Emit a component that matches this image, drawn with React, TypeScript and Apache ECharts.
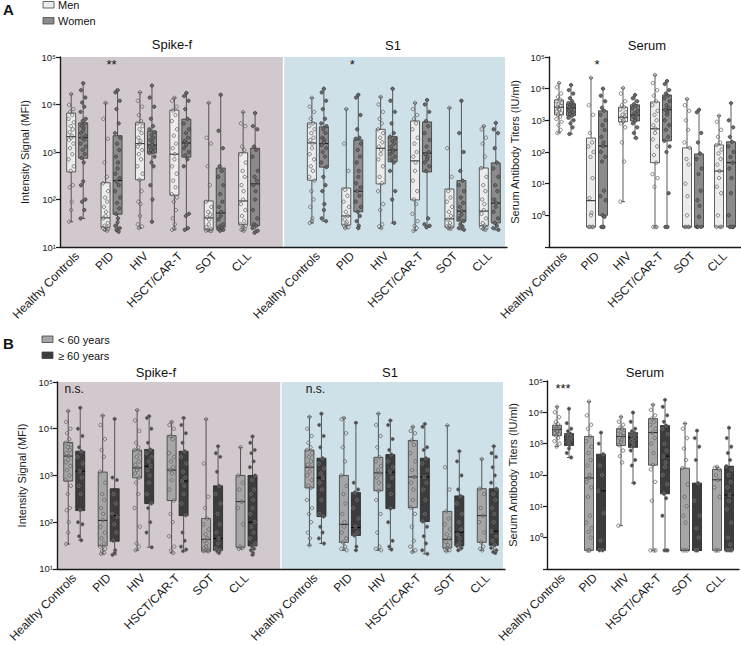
import React, { useEffect, useRef } from 'react';
import * as echarts from 'echarts';

const FONT = '"Liberation Sans", Arial, Helvetica, sans-serif';

// ---------- categories ----------
const categories = ['Healthy Controls', 'PID', 'HIV', 'HSCT/CAR-T', 'SOT', 'CLL'];
const leftCategories = [...categories, '', ...categories];
const S1_START = 7; // S1 categories start after an empty separator slot

// ---------- box stats: [min, q1, median, q3, max] per category ----------
const spikeA_men = [[34, 380, 2100, 6600, 16600], [22, 26, 41, 225, 10800], [25, 260, 1500, 4100, 18000], [23, 124, 900, 7600, 13800], [22, 23, 41, 93, 10800], [22, 30, 93, 960, 6900]];
const spikeA_women = [[40, 740, 2000, 4100, 28000], [21, 49, 250, 2200, 20000], [34, 950, 1400, 2750, 25000], [23, 780, 1550, 4900, 17500], [22, 26, 52, 460, 16000], [20, 28, 213, 1200, 6600]];
const s1A_men = [[32, 255, 1550, 4100, 13800], [25, 29, 45, 174, 8000], [25, 213, 1200, 3000, 14400], [22, 98, 650, 4500, 10800], [24, 26, 39, 166, 8500], [23, 28, 57, 460, 3500]];
const s1A_women = [[35, 480, 1500, 3400, 21500], [25, 55, 150, 1800, 16000], [32, 620, 1100, 2100, 21500], [26, 380, 950, 4300, 12400], [23, 35, 57, 250, 12000], [23, 32, 84, 590, 4100]];
const serumA_men = [[400, 1480, 2600, 4400, 15000], [0.43, 0.43, 2.9, 275, 22000], [2.7, 900, 1250, 2600, 10500], [0.43, 46, 540, 3800, 27000], [0.43, 0.43, 0.43, 135, 4700], [0.43, 0.43, 25, 167, 1400]];
const serumA_women = [[370, 1400, 2450, 3300, 13000], [0.43, 1.0, 155, 2000, 10000], [275, 950, 1480, 3100, 6300], [0.43, 225, 2150, 6300, 17500], [0.43, 0.43, 0.43, 87, 2150], [0.43, 0.43, 46, 210, 3500]];

const spikeB_young = [[34, 760, 2600, 5100, 24000], [21, 31, 109, 1180, 19000], [25, 890, 1450, 3500, 25000], [22, 290, 1300, 7100, 14000], [24, 24, 43, 120, 16000], [27, 29, 275, 1000, 4000]];
const spikeB_old = [[41, 177, 1230, 3300, 28000], [20, 39, 138, 520, 16200], [29, 250, 1580, 3600, 18500], [24, 138, 760, 3300, 17000], [22, 25, 45, 600, 4200], [20, 31, 100, 1000, 6800]];
const s1B_young = [[32, 540, 1500, 3500, 18000], [25, 37, 90, 1000, 17000], [25, 470, 1130, 2450, 21000], [23, 205, 930, 5600, 11000], [24, 28, 43, 170, 11700], [25, 37, 138, 520, 2240]];
const s1B_old = [[35, 132, 890, 2340, 21000], [25, 52, 77, 430, 13400], [26, 195, 1180, 2800, 15000], [21, 103, 930, 2340, 12700], [25, 31, 61, 365, 3300], [22, 32, 64, 520, 4200]];
const serumB_young = [[810, 1800, 2800, 3800, 15000], [0.39, 0.39, 80, 1700, 22000], [2.4, 870, 1700, 3000, 7200], [0.39, 205, 2250, 6300, 17500], [0.39, 0.39, 0.39, 165, 4400], [0.39, 0.39, 70, 150, 180]];
const serumB_old = [[360, 870, 1700, 2100, 13000], [0.39, 0.39, 31, 460, 2250], [55, 760, 1580, 2250, 9800], [0.39, 25, 400, 3800, 25000], [0.39, 0.39, 0.39, 55, 2600], [0.39, 0.39, 23, 190, 3200]];

// ---------- individual points per category ----------
const spikeA_men_pts = [
  [16600, 9800, 8000, 7000, 6000, 5000, 4200, 3500, 3000, 2600, 2200, 2000, 1800, 1500, 1200, 900, 700, 500, 400, 200, 180, 90, 60, 34],
  [10800, 5000, 1900, 600, 300, 220, 150, 110, 90, 70, 55, 45, 40, 32, 28, 26, 25, 24, 23, 22],
  [18000, 12000, 9000, 6000, 4500, 4000, 3500, 3000, 2500, 2000, 1700, 1500, 1300, 1100, 900, 700, 500, 350, 260, 150, 90, 80, 45, 30, 27, 25],
  [13800, 12000, 9000, 7500, 6000, 4500, 3000, 2200, 1500, 1200, 900, 700, 500, 350, 250, 180, 130, 110, 90, 60, 40, 30, 25, 23],
  [10800, 2000, 1500, 500, 200, 90, 70, 55, 48, 42, 38, 30, 26, 24, 23, 22, 22, 22],
  [6900, 4000, 3500, 1300, 1100, 900, 600, 400, 300, 200, 150, 100, 80, 60, 45, 35, 30, 28, 25, 24, 23, 22],
];
const spikeA_women_pts = [
  [28000, 20000, 14000, 11000, 9000, 7000, 5000, 4500, 4000, 3600, 3200, 2800, 2500, 2200, 2000, 1800, 1500, 1300, 1100, 900, 750, 600, 240, 200, 100, 90, 60, 40],
  [20000, 18000, 12000, 8000, 4000, 2500, 2000, 1500, 1100, 800, 600, 450, 350, 280, 240, 200, 150, 110, 85, 65, 50, 40, 33, 28, 25, 23, 21],
  [25000, 14000, 9000, 5000, 3500, 3000, 2600, 2300, 2000, 1800, 1600, 1400, 1300, 1200, 1100, 1000, 950, 800, 600, 500, 200, 100, 34],
  [17500, 15000, 12000, 8000, 5000, 4000, 3000, 2500, 2000, 1700, 1550, 1400, 1200, 1000, 850, 700, 500, 50, 45, 25, 23],
  [16000, 2800, 1200, 500, 400, 300, 200, 130, 90, 70, 55, 45, 38, 30, 27, 25, 24, 23, 22],
  [6600, 3500, 3000, 1300, 1100, 800, 400, 300, 250, 200, 150, 100, 60, 40, 30, 28, 25, 22, 20],
];
const s1A_men_pts = [
  [13800, 9000, 7000, 5000, 4000, 3500, 3000, 2500, 2000, 1800, 1500, 1200, 900, 700, 500, 400, 300, 250, 150, 100, 70, 40, 35, 32],
  [8000, 1500, 400, 160, 120, 90, 70, 55, 45, 38, 33, 30, 28, 26, 25],
  [14400, 10000, 7000, 5000, 4000, 3000, 2500, 2000, 1600, 1300, 1100, 900, 700, 500, 300, 220, 150, 80, 60, 30, 27, 25],
  [10800, 8000, 6000, 5000, 4000, 3000, 2000, 1500, 1000, 800, 600, 400, 250, 150, 100, 80, 50, 35, 28, 25, 22],
  [8500, 1200, 300, 150, 110, 90, 70, 55, 45, 38, 32, 28, 27, 26, 25, 24],
  [3500, 3000, 2000, 1500, 800, 460, 300, 200, 150, 100, 80, 60, 50, 40, 32, 28, 26, 25, 24, 23],
];
const s1A_women_pts = [
  [21500, 18000, 12000, 8000, 5000, 4000, 3500, 3000, 2500, 2000, 1800, 1600, 1400, 1200, 1000, 800, 600, 480, 300, 200, 150, 80, 60, 40, 35],
  [16000, 14000, 6000, 3000, 2000, 1900, 1500, 1100, 800, 600, 400, 300, 220, 180, 150, 120, 90, 70, 55, 45, 35, 28, 25],
  [21500, 12000, 7000, 4000, 2500, 2100, 1900, 1700, 1500, 1300, 1100, 1000, 900, 800, 700, 600, 400, 150, 100, 32],
  [12400, 10000, 7000, 4500, 3500, 2500, 1800, 1300, 1000, 900, 800, 700, 600, 500, 400, 40, 30, 28, 26],
  [12000, 2500, 1000, 400, 250, 200, 150, 110, 85, 70, 57, 48, 40, 35, 30, 27, 25, 23],
  [4100, 3000, 2500, 1200, 600, 450, 300, 200, 150, 100, 84, 70, 55, 40, 32, 28, 25, 23],
];
const serumA_men_pts = [
  [15000, 11000, 7000, 5500, 4500, 4000, 3500, 3200, 2900, 2600, 2300, 2100, 1900, 1700, 1500, 1300, 1100, 900, 700, 500, 400],
  [22000, 3000, 1500, 400, 200, 150, 100, 70, 15, 3.5, 1.2, 1.0, 0.43, 0.43, 0.43, 0.43],
  [10500, 7000, 4000, 3000, 2600, 2200, 1800, 1500, 1300, 1200, 1000, 900, 800, 600, 200, 50, 2.7],
  [27000, 15000, 9000, 6000, 4000, 3000, 2000, 1500, 1000, 700, 540, 400, 250, 150, 80, 46, 20, 15, 8, 0.43, 0.43, 0.43],
  [4700, 3000, 2000, 1000, 500, 200, 135, 60, 40, 10, 4, 1, 0.43, 0.43, 0.43, 0.43],
  [1400, 900, 500, 300, 200, 167, 120, 90, 60, 40, 25, 15, 8, 5, 1.0, 0.43, 0.43, 0.43],
];
const serumA_women_pts = [
  [13000, 9000, 7000, 5000, 4000, 3500, 3200, 3000, 2800, 2600, 2400, 2200, 2000, 1800, 1600, 1400, 1200, 1000, 800, 600, 370],
  [10000, 6000, 4000, 2500, 2000, 1500, 1000, 700, 500, 300, 200, 155, 100, 70, 50, 6, 4, 3, 1.0, 0.9, 0.43, 0.43, 0.43],
  [6300, 5000, 4000, 3200, 2800, 2400, 2000, 1700, 1500, 1300, 1100, 950, 800, 600, 400, 275],
  [17500, 14000, 9000, 7000, 6000, 5000, 4000, 3000, 2500, 2150, 1800, 1500, 1000, 700, 500, 300, 225, 150, 100, 5, 0.43, 0.43],
  [2150, 1800, 400, 200, 90, 60, 30, 20, 6, 3, 2, 0.9, 0.43, 0.43, 0.43],
  [3500, 1000, 600, 300, 210, 150, 100, 70, 46, 30, 15, 5, 1.0, 0.43, 0.43, 0.43],
];

const spikeB_young_pts = [
  [24000, 14000, 10000, 8000, 6000, 5000, 4500, 4000, 3500, 3000, 2600, 2200, 1900, 1600, 1300, 1000, 800, 600, 400, 200, 180, 100, 60, 34],
  [19000, 12000, 6000, 3500, 2500, 1200, 700, 400, 300, 200, 150, 110, 80, 60, 45, 35, 30, 27, 24, 22, 21],
  [25000, 15000, 9000, 5000, 4000, 3500, 3000, 2500, 2000, 1700, 1450, 1300, 1100, 900, 700, 400, 200, 80, 35, 30, 25],
  [14000, 12000, 10000, 7000, 6000, 3000, 2500, 2000, 1500, 1300, 1100, 800, 500, 290, 150, 100, 50, 30, 25, 22],
  [16000, 1800, 350, 200, 120, 90, 70, 55, 45, 40, 35, 30, 28, 26, 25, 24, 24, 24],
  [4000, 1000, 700, 500, 275, 200, 90, 30, 28, 27],
];
const spikeB_old_pts = [
  [28000, 10000, 7000, 4000, 3300, 2500, 1800, 1230, 900, 600, 400, 180, 100, 90, 50, 41],
  [16200, 900, 800, 400, 250, 150, 130, 90, 60, 40, 25, 22, 20],
  [18500, 17000, 10000, 5000, 3600, 3000, 2500, 2000, 1600, 1300, 1000, 700, 400, 250, 200, 100, 60, 29],
  [17000, 12000, 8000, 5000, 3300, 2500, 1800, 1200, 900, 760, 600, 400, 250, 140, 60, 40, 30, 26, 24],
  [4200, 3000, 2500, 1200, 600, 400, 250, 150, 90, 60, 45, 35, 28, 25, 24, 22],
  [6800, 5000, 3500, 3000, 2000, 1500, 1000, 800, 500, 400, 300, 200, 150, 100, 80, 60, 45, 35, 30, 27, 25, 22, 20],
];
const s1B_young_pts = [
  [18000, 10000, 7000, 5000, 4000, 3500, 3000, 2500, 2000, 1700, 1500, 1200, 1000, 800, 600, 540, 300, 200, 150, 100, 60, 45, 32],
  [17000, 16000, 8000, 4000, 2000, 1000, 600, 400, 250, 150, 100, 80, 60, 45, 37, 30, 27, 25],
  [21000, 12000, 7000, 4000, 2450, 2000, 1600, 1300, 1100, 900, 700, 470, 300, 150, 60, 30, 27, 25],
  [11000, 9000, 8000, 5600, 4500, 3000, 2000, 1300, 930, 700, 500, 300, 205, 150, 80, 40, 30, 25, 23],
  [11700, 1500, 500, 170, 120, 90, 70, 55, 45, 38, 32, 28, 26, 25, 24],
  [2240, 520, 400, 200, 138, 100, 60, 37, 30, 27, 25],
];
const s1B_old_pts = [
  [21000, 12000, 7000, 4000, 2340, 1800, 1400, 1100, 890, 700, 500, 300, 150, 132, 80, 60, 45, 35],
  [13400, 700, 500, 430, 300, 200, 120, 80, 60, 52, 30, 25],
  [15000, 12000, 6000, 3500, 2800, 2000, 1500, 1200, 900, 600, 400, 195, 100, 40, 30, 26],
  [12700, 11000, 4000, 3500, 2340, 1800, 1300, 930, 700, 500, 300, 150, 103, 80, 50, 35, 25, 21],
  [3300, 2000, 1000, 500, 365, 250, 150, 100, 70, 55, 45, 35, 31, 28, 25],
  [4200, 3000, 2500, 1500, 1000, 700, 520, 400, 300, 200, 150, 100, 64, 50, 40, 32, 28, 25, 23, 22],
];
const serumB_young_pts = [
  [15000, 10000, 7000, 5000, 4200, 3800, 3500, 3200, 3000, 2800, 2600, 2400, 2200, 2000, 1800, 1500, 1200, 1000, 810],
  [22000, 8000, 4000, 3000, 1700, 1200, 800, 500, 300, 200, 100, 80, 60, 40, 20, 5, 3, 2, 1.5, 1, 0.39, 0.39, 0.39],
  [7200, 5000, 4000, 3200, 3000, 2600, 2200, 1900, 1700, 1500, 1300, 1100, 900, 600, 400, 250, 2.4],
  [17500, 12000, 8000, 6300, 5000, 4000, 3000, 2250, 1500, 1000, 500, 205, 150, 60, 15, 0.39, 0.39, 0.39],
  [4400, 3000, 1500, 700, 300, 165, 50, 20, 10, 5, 3, 0.39, 0.39, 0.39],
  [180, 170, 150, 100, 70, 40, 20, 0.39, 0.39, 0.39],
];
const serumB_old_pts = [
  [13000, 4500, 3000, 2500, 2100, 1900, 1700, 1500, 1300, 1100, 900, 700, 500, 360],
  [2250, 1000, 460, 200, 100, 31, 6, 0.8, 0.39, 0.39],
  [9800, 5000, 3000, 2500, 2250, 2000, 1800, 1600, 1400, 1200, 1000, 800, 600, 300, 200, 55],
  [25000, 15000, 8000, 5000, 3800, 3000, 2000, 1000, 600, 400, 250, 180, 100, 50, 25, 18, 5, 0.39, 0.39, 0.39],
  [2600, 1500, 800, 300, 55, 15, 5, 2, 1, 0.39, 0.39, 0.39],
  [3200, 1500, 800, 500, 300, 190, 150, 100, 60, 40, 23, 15, 8, 3, 1, 0.6, 0.39, 0.39, 0.39, 0.39],
];

// ---------- significance annotations ----------
const sigMarks = [
  { grid: 0, cat: 1, text: '**' },
  { grid: 0, cat: S1_START + 1, text: '*' },
  { grid: 1, cat: 1, text: '*' },
  { grid: 2, cat: 0, text: 'n.s.' },
  { grid: 2, cat: S1_START, text: 'n.s.' },
  { grid: 3, cat: 0, text: '***' },
];

// ---------- styles ----------
type GroupStyle = { boxFill: string; boxStroke: string; median: string; ptFill: string; ptStroke: string };
const MEN: GroupStyle = { boxFill: '#ececec', boxStroke: '#3a3a3a', median: '#222', ptFill: 'rgba(255,255,255,0.15)', ptStroke: '#555' };
const WOMEN: GroupStyle = { boxFill: '#8b8b8b', boxStroke: '#333', median: '#111', ptFill: '#6b6b6b', ptStroke: '#3a3a3a' };
const YOUNG: GroupStyle = { boxFill: '#a6a6a6', boxStroke: '#3a3a3a', median: '#222', ptFill: 'rgba(220,220,220,0.2)', ptStroke: '#555' };
const OLD: GroupStyle = { boxFill: '#3c3c3c', boxStroke: '#222', median: '#000', ptFill: '#4a4a4a', ptStroke: '#777' };
const SPIKE_BG = '#d2c9ce';
const S1_BG = '#cee0e8';
const BOX_W = 9;
const CAP_W = 4;
const PT_R = 1.7;
const OFFSET = 6;
const JITTER = [0, -2.2, 2.2, -1.1, 1.1, -2.6, 2.6, -0.5, 1.6, -1.6, 0.5];

const SUP: Record<string, string> = { '-': '⁻', '0': '⁰', '1': '¹', '2': '²', '3': '³', '4': '⁴', '5': '⁵', '6': '⁶', '7': '⁷', '8': '⁸', '9': '⁹' };
const powLabel = (v: number) => '10' + String(Math.round(Math.log10(v))).split('').map((c) => SUP[c]).join('');

function boxSeries(grid: number, data: number[][], offset: number, st: GroupStyle) {
  return {
    type: 'custom', xAxisIndex: grid, yAxisIndex: grid, z: 2, silent: true, data,
    renderItem: (_p: any, api: any) => {
      const c = api.value(0);
      const top = api.coord([c, api.value(5)]);
      const cx = top[0] + offset;
      const yMax = top[1];
      const yQ3 = api.coord([c, api.value(4)])[1];
      const yMed = api.coord([c, api.value(3)])[1];
      const yQ1 = api.coord([c, api.value(2)])[1];
      const yMin = api.coord([c, api.value(1)])[1];
      const hw = BOX_W / 2, cw = CAP_W / 2;
      const ls = { stroke: '#333', lineWidth: 0.8 };
      return {
        type: 'group', children: [
          { type: 'line', shape: { x1: cx, y1: yMax, x2: cx, y2: yMin }, style: ls },
          { type: 'line', shape: { x1: cx - cw, y1: yMax, x2: cx + cw, y2: yMax }, style: ls },
          { type: 'line', shape: { x1: cx - cw, y1: yMin, x2: cx + cw, y2: yMin }, style: ls },
          { type: 'rect', shape: { x: cx - hw, y: yQ3, width: BOX_W, height: Math.max(yQ1 - yQ3, 0.8) }, style: { fill: st.boxFill, stroke: st.boxStroke, lineWidth: 0.8 } },
          { type: 'line', shape: { x1: cx - hw, y1: yMed, x2: cx + hw, y2: yMed }, style: { stroke: st.median, lineWidth: 1 } },
        ],
      };
    },
  };
}

function pointSeries(grid: number, data: number[][], offset: number, st: GroupStyle) {
  return {
    type: 'custom', xAxisIndex: grid, yAxisIndex: grid, z: 3, silent: true, data,
    renderItem: (_p: any, api: any) => {
      const p = api.coord([api.value(0), api.value(1)]);
      const j = JITTER[api.value(2) % JITTER.length];
      return { type: 'circle', shape: { cx: p[0] + offset + j, cy: p[1], r: PT_R }, style: { fill: st.ptFill, stroke: st.ptStroke, lineWidth: 0.7 } };
    },
  };
}

function addGroup(series: any[], grid: number, stats: number[][], pts: number[][], catStart: number, offset: number, st: GroupStyle) {
  series.push(boxSeries(grid, stats.map((s, i) => [i + catStart, ...s]), offset, st));
  const pd: number[][] = [];
  pts.forEach((arr, i) => arr.forEach((v, k) => pd.push([i + catStart, v, k])));
  series.push(pointSeries(grid, pd, offset, st));
}

function bgSeries(grid: number) {
  return {
    type: 'custom', xAxisIndex: grid, yAxisIndex: grid, z: 0, silent: true, data: [[S1_START - 1, 1000]],
    renderItem: (params: any, api: any) => {
      const cs = params.coordSys;
      const mid = api.coord([S1_START - 1, 1000])[0];
      return {
        type: 'group', children: [
          { type: 'rect', shape: { x: cs.x + 1, y: cs.y, width: mid - cs.x - 1.7, height: cs.height }, style: { fill: SPIKE_BG } },
          { type: 'rect', shape: { x: mid + 0.7, y: cs.y, width: cs.x + cs.width - mid - 2.7, height: cs.height }, style: { fill: S1_BG } },
        ],
      };
    },
  };
}

function sigSeries(grid: number, marks: { cat: number; text: string }[]) {
  return {
    type: 'custom', xAxisIndex: grid, yAxisIndex: grid, z: 4, silent: true,
    data: marks.map((m) => [m.cat, 1000]),
    renderItem: (params: any, api: any) => {
      const m = marks[params.dataIndex];
      const cs = params.coordSys;
      const x = api.coord([m.cat, 1000])[0];
      const isStar = m.text.indexOf('*') >= 0;
      return {
        type: 'text', x, y: cs.y + 1,
        style: { text: m.text, fill: '#111', fontFamily: FONT, fontSize: isStar ? 13 : 12, align: 'center', verticalAlign: 'top' },
      };
    },
  };
}

const xAxisBase = (grid: number, data: string[]) => ({
  type: 'category', gridIndex: grid, data,
  axisLine: { lineStyle: { color: '#1a1a1a', width: 1.4 } },
  axisTick: { alignWithLabel: true, interval: 0, length: 4, lineStyle: { color: '#1a1a1a', width: 1.2 } },
  axisLabel: { rotate: 45, interval: 0, fontSize: 12, color: '#1a1a1a', fontFamily: FONT, margin: 7 },
  splitLine: { show: false },
});

const yAxisBase = (grid: number, min: number, max: number, name: string, nameGap: number) => ({
  type: 'log', logBase: 10, gridIndex: grid, min, max, splitNumber: 6,
  name, nameLocation: 'middle', nameGap, nameRotate: 90,
  nameTextStyle: { fontSize: 11, color: '#1a1a1a', fontFamily: FONT },
  axisLine: { show: true, lineStyle: { color: '#1a1a1a', width: 1.4 } },
  axisTick: { show: true, length: 4, lineStyle: { color: '#1a1a1a', width: 1.2 } },
  minorTick: { show: false },
  axisLabel: { fontSize: 9.5, color: '#1a1a1a', fontFamily: FONT, margin: 4, formatter: (v: number) => (v < 0.5 ? '' : powLabel(v)) },
  splitLine: { show: false },
});

export default function App() {
  const ref = useRef<HTMLDivElement>(null);
  useEffect(() => {
    if (!ref.current) return;
    const chart = echarts.init(ref.current, undefined, { renderer: 'svg' });
    const series: any[] = [bgSeries(0), bgSeries(2)];
    addGroup(series, 0, spikeA_men, spikeA_men_pts, 0, -OFFSET, MEN);
    addGroup(series, 0, spikeA_women, spikeA_women_pts, 0, OFFSET, WOMEN);
    addGroup(series, 0, s1A_men, s1A_men_pts, S1_START, -OFFSET, MEN);
    addGroup(series, 0, s1A_women, s1A_women_pts, S1_START, OFFSET, WOMEN);
    addGroup(series, 1, serumA_men, serumA_men_pts, 0, -OFFSET, MEN);
    addGroup(series, 1, serumA_women, serumA_women_pts, 0, OFFSET, WOMEN);
    addGroup(series, 2, spikeB_young, spikeB_young_pts, 0, -OFFSET, YOUNG);
    addGroup(series, 2, spikeB_old, spikeB_old_pts, 0, OFFSET, OLD);
    addGroup(series, 2, s1B_young, s1B_young_pts, S1_START, -OFFSET, YOUNG);
    addGroup(series, 2, s1B_old, s1B_old_pts, S1_START, OFFSET, OLD);
    addGroup(series, 3, serumB_young, serumB_young_pts, 0, -OFFSET, YOUNG);
    addGroup(series, 3, serumB_old, serumB_old_pts, 0, OFFSET, OLD);
    [0, 1, 2, 3].forEach((g) => {
      const ms = sigMarks.filter((m) => m.grid === g);
      if (ms.length) series.push(sigSeries(g, ms));
    });

    const txt = (x: number, y: number, text: string, size = 10, extra: any = {}) => ({
      type: 'text', x, y, silent: true,
      style: { text, fill: '#111', fontFamily: FONT, fontSize: size, verticalAlign: 'middle', align: 'left', ...extra },
    });
    const swatch = (x: number, y: number, fill: string) => ({
      type: 'rect', silent: true, shape: { x, y, width: 11, height: 6.5 }, style: { fill, stroke: '#444', lineWidth: 0.8 },
    });

    chart.setOption({
      animation: false,
      backgroundColor: '#ffffff',
      grid: [
        { left: 60, top: 57, width: 447, height: 190 },
        { left: 549, top: 57, width: 192, height: 190 },
        { left: 57, top: 382, width: 448, height: 189 },
        { left: 547, top: 381, width: 192, height: 190 },
      ],
      xAxis: [xAxisBase(0, leftCategories), xAxisBase(1, categories), xAxisBase(2, leftCategories), xAxisBase(3, categories)],
      yAxis: [
        yAxisBase(0, 10, 100000, 'Intensity Signal (MFI)', 30),
        yAxisBase(1, 0.1, 100000, 'Serum Antibody Titers (IU/ml)', 29),
        yAxisBase(2, 10, 100000, 'Intensity Signal (MFI)', 30),
        yAxisBase(3, 0.1, 100000, 'Serum Antibody Titers (IU/ml)', 29),
      ],
      graphic: [
        txt(3, 9.5, 'A', 15, { fontWeight: 'bold' }),
        swatch(43, 1.5, MEN.boxFill),
        txt(58, 5, 'Men', 11),
        swatch(43, 17.5, WOMEN.boxFill),
        txt(58, 21, 'Women', 11),
        txt(172, 44, 'Spike-f', 13, { align: 'center' }),
        txt(393, 45, 'S1', 13, { align: 'center' }),
        txt(647, 45, 'Serum', 13, { align: 'center' }),
        txt(3, 343, 'B', 15, { fontWeight: 'bold' }),
        swatch(42, 336, YOUNG.boxFill),
        txt(58, 339.5, '< 60 years', 11),
        swatch(42, 352, OLD.boxFill),
        txt(58, 355.5, '≥ 60 years', 11),
        txt(156, 372, 'Spike-f', 13, { align: 'center' }),
        txt(390, 372, 'S1', 13, { align: 'center' }),
        txt(645, 372, 'Serum', 13, { align: 'center' }),
      ],
      series,
    });
    return () => chart.dispose();
  }, []);
  return <div ref={ref} style={{ position: 'absolute', left: 0, top: 0, width: 741, height: 645, background: '#fff' }} />;
}
